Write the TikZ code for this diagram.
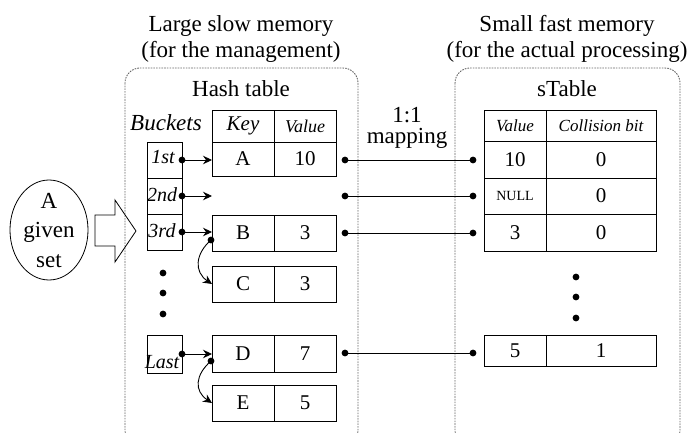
\documentclass[tikz,border=0pt]{standalone}
\usepackage{fontspec}
\setmainfont{Liberation Serif}
\usetikzlibrary{arrows.meta,shapes.geometric,calc}
\newcommand\setfs[1]{\fontsize{#1}{#1}\selectfont}

\begin{document}
\begin{tikzpicture}[x=1pt,y=-1pt,
  every node/.style={inner sep=0pt,outer sep=0pt},
  txt/.style={font=\setfs{23}},
  cell/.style={draw,line width=0.9pt,font=\setfs{21}},
  keycol/.style={cell,minimum width=62pt},
  valcol/.style={cell,minimum width=62pt},
  bitcol/.style={cell,minimum width=110pt},
  bucket/.style={draw,line width=0.9pt,minimum width=35pt},
  blabel/.style={font=\setfs{20}\itshape},
  ptr/.style={line width=0.9pt,-{Stealth[length=9pt,width=8.5pt,inset=3pt]}},
  maplink/.style={line width=0.9pt},
  memb/.style={draw=gray!80!black,line width=0.9pt,dash pattern=on 1.6pt off 1.1pt,rounded corners=15pt},
  dotmark/.style={fill=black}
]
\useasboundingbox (0,0) rectangle (690,433);
\clip (0,0) rectangle (690,433);

% memory regions
\draw[memb] (125,68) rectangle (358,445);
\draw[memb] (455,68) rectangle (680,445);

% titles
\node[txt,anchor=base] (tl1) at (241,32) {Large slow memory};
\node[txt,anchor=base] (tl2) at (241,58) {(for the management)};
\node[txt,anchor=base] (tr1) at (567,32) {Small fast memory};
\node[txt,anchor=base] (tr2) at (567,58) {(for the actual processing)};
\node[txt,anchor=base] (htitle) at (241,97) {Hash table};
\node[txt,anchor=base] (stitle) at (567,97) {sTable};
\node[txt,anchor=base] (map1) at (407,122) {1:1};
\node[txt,anchor=base] (map2) at (407,143) {mapping};

% input set and block arrow
\node[draw,ellipse,line width=0.8pt,minimum width=78pt,minimum height=100pt] (set) at (49,230) {};
\node[txt,anchor=base] (setA) at (49,208) {A};
\node[txt,anchor=base] (setB) at (49,237) {given};
\node[txt,anchor=base] (setC) at (49,267) {set};
\draw[line width=0.8pt] (95,215) -- (115,215) -- (115,200) -- (136,231)
  -- (115,262) -- (115,246) -- (95,246) -- cycle;

% buckets
\node[font=\setfs{23}\itshape,anchor=base] (bk) at (166,130) {Buckets};
\node[bucket,minimum height=36pt] (b1) at (164.5,160) {};
\node[bucket,minimum height=36pt] (b2) at (164.5,196) {};
\node[bucket,minimum height=36pt] (b3) at (164.5,232) {};
\node[bucket,minimum height=38pt] (bL) at (164.5,354) {};
\node[blabel] (l1) at (163,157) {1st};
\node[blabel] (l2) at (162,195) {2nd};
\node[blabel] (l3) at (162,231) {3rd};
\node[blabel] (lL) at (162,362) {Last};
\foreach \yy [count=\i] in {273,293,314}
  \fill[dotmark] (163,\yy) circle (3.4pt);

% hash table
\node[keycol,minimum height=32pt,font=\setfs{21}\itshape] (kH) at (243,126) {Key};
\node[valcol,minimum height=32pt,font=\setfs{18}\itshape] (vH) at (305,126) {Value};
\node[keycol,minimum height=34pt] (kA) at (243,159) {A};
\node[valcol,minimum height=34pt] (vA) at (305,159) {10};
\node[keycol,minimum height=36pt] (kB) at (243,233) {B};
\node[valcol,minimum height=36pt] (vB) at (305,233) {3};
\node[keycol,minimum height=36pt] (kC) at (243,284) {C};
\node[valcol,minimum height=36pt] (vC) at (305,284) {3};
\node[keycol,minimum height=37pt] (kD) at (243,353.5) {D};
\node[valcol,minimum height=37pt] (vD) at (305,353.5) {7};
\node[keycol,minimum height=36pt] (kE) at (243,403) {E};
\node[valcol,minimum height=36pt] (vE) at (305,403) {5};

% sTable
\node[valcol,minimum height=31pt,font=\setfs{17}\itshape] (sH1) at (515,125.5) {Value};
\node[bitcol,minimum height=31pt,font=\setfs{17}\itshape] (sH2) at (601,125.5) {Collision bit};
\node[valcol,minimum height=37pt] (s1v) at (515,159.5) {10};
\node[bitcol,minimum height=37pt] (s1b) at (601,159.5) {0};
\node[valcol,minimum height=36pt,font=\setfs{14}] (s2v) at (515,196) {NULL};
\node[bitcol,minimum height=36pt] (s2b) at (601,196) {0};
\node[valcol,minimum height=37pt] (s3v) at (515,232.5) {3};
\node[bitcol,minimum height=37pt] (s3b) at (601,232.5) {0};
\node[valcol,minimum height=31pt] (s5v) at (515,350.5) {5};
\node[bitcol,minimum height=31pt] (s5b) at (601,350.5) {1};
\foreach \yy in {277,297,318}
  \fill[dotmark] (576,\yy) circle (3.4pt);

% bucket pointers
\coordinate (e2) at (212,196);
\draw[ptr] (b1.east) -- (b1.east -| kA.west);
\draw[ptr] (b2.east) -- (e2);
\draw[ptr] (b3.east) -- (b3.east -| kB.west);
\draw[ptr] (bL.east) -- (bL.east -| kD.west);
\foreach \n in {b1,b2,b3,bL}
  \fill[dotmark] (\n.east) circle (3.4pt);

% collision chains
\coordinate (cB) at ($(kB.west)+(-1,7)$);
\coordinate (cD) at ($(kD.west)+(-1,7.5)$);
\draw[ptr] (cB) .. controls ($(cB)+(-16,14)$) and ($(kC.west)+(-18,-12)$) .. (kC.west);
\draw[ptr] (cD) .. controls ($(cD)+(-16,14)$) and ($(kE.west)+(-18,-12)$) .. (kE.west);
\fill[dotmark] (cB) circle (3.4pt);
\fill[dotmark] (cD) circle (3.4pt);

% one-to-one mapping
\coordinate (m1l) at (345,160);
\coordinate (m2l) at (345,196);
\coordinate (m3l) at (345,233);
\coordinate (m5l) at (345,353);
\coordinate (m1r) at ($(m1l -| s1v.west)+(-11,0)$);
\coordinate (m2r) at ($(m2l -| s2v.west)+(-11,0)$);
\coordinate (m3r) at ($(m3l -| s3v.west)+(-11,0)$);
\coordinate (m5r) at ($(m5l -| s5v.west)+(-11,0)$);
\foreach \r in {1,2,3,5} {
  \draw[maplink] (m\r l) -- (m\r r);
  \fill[dotmark] (m\r l) circle (3.4pt);
  \fill[dotmark] (m\r r) circle (3.4pt);
}
\end{tikzpicture}
\end{document}
